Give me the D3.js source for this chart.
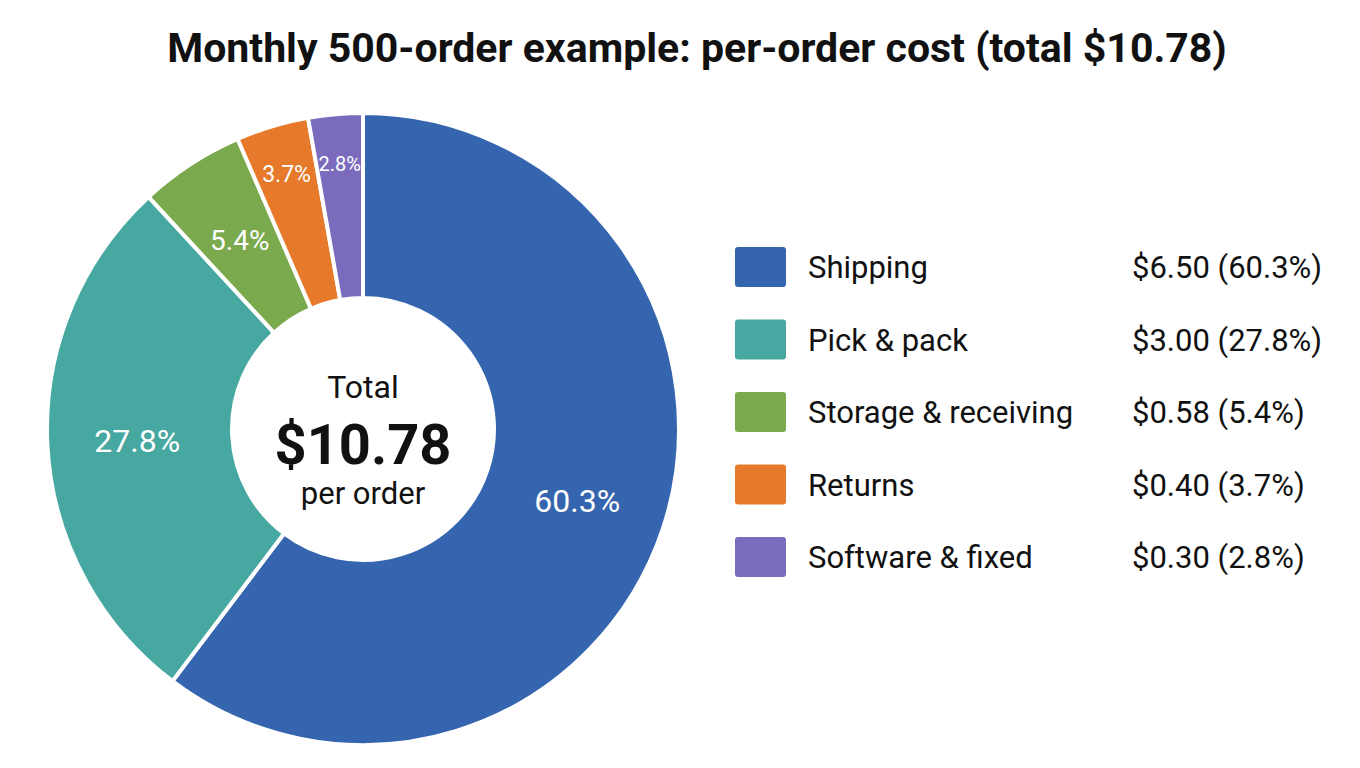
<!DOCTYPE html>
<html>
<head>
<meta charset="utf-8">
<script src="https://cdn.jsdelivr.net/npm/d3@7"></script>
<style>
  body { margin: 0; background: #fff; }
  text { font-family: Roboto, "Noto Sans", sans-serif; }
</style>
</head>
<body>
<svg id="chart" width="1360" height="768"></svg>
<script>
// data
const categories = ["Shipping", "Pick & pack", "Storage & receiving", "Returns", "Software & fixed"];
const costs = [6.50, 3.00, 0.58, 0.40, 0.30];
const colors = ["#3565ae", "#46a8a0", "#7baa4e", "#e67a2a", "#7b6bbd"];
const titleText = "Monthly 500-order example: per-order cost (total $10.78)";

const total = d3.sum(costs);
const pct = v => (v / total * 100).toFixed(1) + "%";

const svg = d3.select("#chart");

svg.append("text")
  .attr("x", 697)
  .attr("y", 62)
  .attr("text-anchor", "middle")
  .style("font-size", "41px")
  .style("font-weight", "700")
  .style("fill", "#111")
  .text(titleText);

// donut
let cx = 363, cy = 429;
let outerR = 316, innerR = 131;

const data = categories.map((c, i) => ({ name: c, value: costs[i], color: colors[i] }));

const pie = d3.pie().value(d => d.value).sort(null);
const arc = d3.arc().innerRadius(innerR).outerRadius(outerR);

// big slices get their label mid-ring, thin ones further out where there is room
const labelRadius = d => d.data.value / total > 0.05 ? 226 : 266;
const labelSize = d => {
  const share = d.data.value / total;
  if (share > 0.2) return "32px";
  if (share > 0.05) return "28px";
  if (share > 0.03) return "23px";
  return "20px";
};

const g = svg.append("g").attr("transform", "translate(" + cx + "," + cy + ")");

g.selectAll("path")
  .data(pie(data))
  .enter().append("path")
  .attr("d", arc)
  .attr("fill", d => d.data.color)
  .attr("stroke", "#fff")
  .attr("stroke-width", 4)
  .attr("stroke-linejoin", "round");

g.selectAll("text.slice")
  .data(pie(data))
  .enter().append("text")
  .attr("class", "slice")
  .attr("transform", d => {
    const r = labelRadius(d);
    return "translate(" + d3.arc().innerRadius(r).outerRadius(r).centroid(d) + ")";
  })
  .attr("text-anchor", "middle")
  .attr("dy", "0.36em")
  .style("fill", "#fff")
  .style("font-size", labelSize)
  .text(d => pct(d.data.value));

// center text
g.append("text")
  .attr("y", -31)
  .attr("text-anchor", "middle")
  .style("font-size", "32px")
  .style("fill", "#111")
  .text("Total");

g.append("text")
  .attr("y", 35)
  .attr("text-anchor", "middle")
  .style("font-size", "56px")
  .style("font-weight", "700")
  .style("fill", "#111")
  .text("$" + total.toFixed(2));

g.append("text")
  .attr("y", 75)
  .attr("text-anchor", "middle")
  .style("font-size", "31px")
  .style("fill", "#111")
  .text("per order");

// legend
const legendY = d3.scalePoint()
  .domain(categories)
  .range([267, 557]);

const legend = svg.append("g");

const rows = legend.selectAll("g")
  .data(data)
  .enter().append("g")
  .attr("transform", d => "translate(0," + legendY(d.name) + ")");

rows.append("rect")
  .attr("x", 735)
  .attr("y", -20)
  .attr("width", 51)
  .attr("height", 40)
  .attr("rx", 3)
  .attr("fill", d => d.color);

rows.append("text")
  .attr("x", 808)
  .attr("dy", "0.36em")
  .style("font-size", "31px")
  .style("fill", "#111")
  .text(d => d.name);

rows.append("text")
  .attr("x", 1132)
  .attr("dy", "0.36em")
  .style("font-size", "31px")
  .style("fill", "#111")
  .text(d => "$" + d.value.toFixed(2) + " (" + pct(d.value) + ")");
</script>
</body>
</html>
